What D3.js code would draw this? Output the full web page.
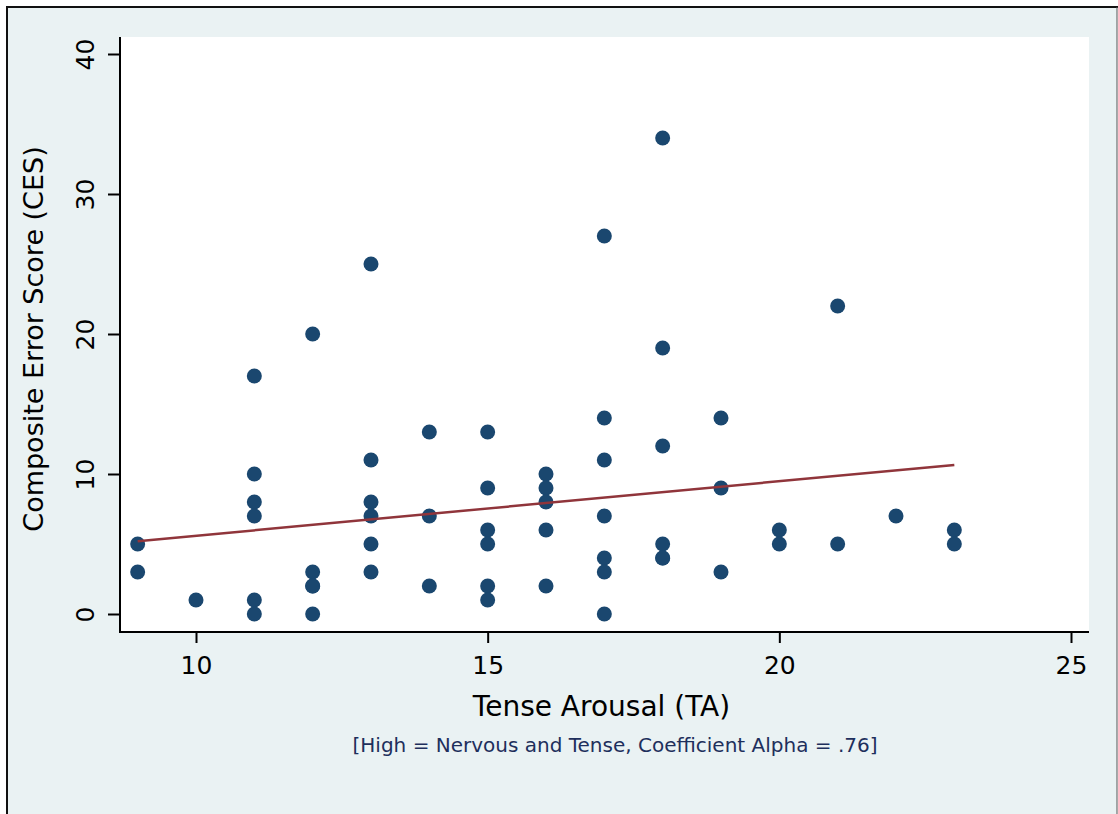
<!DOCTYPE html>
<html>
<head>
<meta charset="utf-8">
<script src="https://cdn.jsdelivr.net/npm/d3@7"></script>
<style>
  body { margin: 0; background: #ffffff; }
  svg { display: block; font-family: "DejaVu Sans", Verdana, sans-serif; }
</style>
</head>
<body>
<svg id="drawing_region"></svg>
<script>
// Tense Arousal (x) and Composite Error Score (y), one entry per subject
const taValues  = [9, 9, 10, 11, 11, 11, 11, 11, 11, 12, 12, 12, 12, 12,
                   13, 13, 13, 13, 13, 13, 14, 14, 14,
                   15, 15, 15, 15, 15, 15, 16, 16, 16, 16, 16,
                   17, 17, 17, 17, 17, 17, 17, 18, 18, 18, 18, 18, 18,
                   19, 19, 19, 20, 20, 21, 21, 22, 23, 23];
const cesValues = [5, 3, 1, 17, 10, 8, 7, 1, 0, 20, 3, 2, 2, 0,
                   25, 11, 8, 7, 5, 3, 13, 7, 2,
                   13, 9, 6, 5, 2, 1, 10, 9, 8, 6, 2,
                   27, 14, 11, 7, 4, 3, 0, 34, 19, 12, 5, 4, 4,
                   14, 9, 3, 6, 5, 22, 5, 7, 6, 5];

// fitted line (linear fit) endpoints
const fitX = [9, 23];
const fitY = [5.2, 10.65];

const xTicks = [10, 15, 20, 25];
const yTicks = [0, 10, 20, 30, 40];

const xTitle = "Tense Arousal (TA)";
const xNote = "[High = Nervous and Tense, Coefficient Alpha = .76]";
const yTitle = "Composite Error Score (CES)";

const config = {
    width: 1118,
    height: 814,
    plotLeft: 120,
    plotRight: 1089,
    plotTop: 37,
    plotBottom: 632
};

const svg = d3.select('#drawing_region')
    .attr('width', config.width)
    .attr('height', config.height);

// graph region background + frame
svg.append('rect')
    .attr('x', 7).attr('y', 7)
    .attr('width', 1110).attr('height', 820)
    .attr('fill', '#eaf2f3');
svg.append('line')
    .attr('x1', 6).attr('x2', 1118).attr('y1', 7).attr('y2', 7)
    .attr('stroke', '#111').attr('stroke-width', 2);
svg.append('line')
    .attr('x1', 7).attr('x2', 7).attr('y1', 6).attr('y2', 814)
    .attr('stroke', '#111').attr('stroke-width', 2);
svg.append('line')
    .attr('x1', 1117).attr('x2', 1117).attr('y1', 7).attr('y2', 814)
    .attr('stroke', '#555').attr('stroke-width', 1);

// plot region
svg.append('rect')
    .attr('x', config.plotLeft).attr('y', config.plotTop)
    .attr('width', config.plotRight - config.plotLeft)
    .attr('height', config.plotBottom - config.plotTop)
    .attr('fill', '#ffffff');

const xScale = d3.scaleLinear().domain([10, 25]).range([196, 1071]);
const yScale = d3.scaleLinear().domain([0, 40]).range([614, 54]);

// axes
const xAxis = d3.axisBottom(xScale)
    .tickValues(xTicks)
    .tickSize(11)
    .tickPadding(13)
    .tickSizeOuter(0);
const gx = svg.append('g')
    .attr('transform', `translate(0, ${config.plotBottom})`)
    .call(xAxis);
gx.select('.domain').remove();
gx.append('line')
    .attr('x1', config.plotLeft - 1).attr('x2', config.plotRight)
    .attr('stroke', '#000').attr('stroke-width', 2);
gx.selectAll('.tick line').attr('stroke', '#000').attr('stroke-width', 2);
gx.selectAll('.tick text')
    .attr('fill', '#000')
    .style('font-family', '"DejaVu Sans", sans-serif')
    .style('font-size', '25px');

const yAxis = d3.axisLeft(yScale)
    .tickValues(yTicks)
    .tickSize(12)
    .tickSizeOuter(0);
const gy = svg.append('g')
    .attr('transform', `translate(${config.plotLeft}, 0)`)
    .call(yAxis);
gy.select('.domain').remove();
gy.append('line')
    .attr('y1', config.plotTop).attr('y2', config.plotBottom + 1)
    .attr('stroke', '#000').attr('stroke-width', 2);
gy.selectAll('.tick line').attr('stroke', '#000').attr('stroke-width', 2);
gy.selectAll('.tick text')
    .attr('x', null).attr('dy', null)
    .attr('fill', '#000')
    .attr('text-anchor', 'middle')
    .attr('transform', 'translate(-26, 0) rotate(-90)')
    .style('font-family', '"DejaVu Sans", sans-serif')
    .style('font-size', '25px');

// points
const points = taValues.map((v, i) => ({ x: v, y: cesValues[i] }));
svg.append('g')
    .selectAll('circle')
    .data(points)
    .join('circle')
    .attr('cx', d => xScale(d.x))
    .attr('cy', d => yScale(d.y))
    .attr('r', 7.5)
    .attr('fill', '#1a476f');

// fitted line
svg.append('path')
    .datum(fitX.map((v, i) => [v, fitY[i]]))
    .attr('d', d3.line().x(d => xScale(d[0])).y(d => yScale(d[1])))
    .attr('fill', 'none')
    .attr('stroke', '#90353b')
    .attr('stroke-width', 2.5);

// titles
const midX = (config.plotLeft + config.plotRight) / 2;
svg.append('text')
    .attr('x', midX - 3).attr('y', 716)
    .attr('text-anchor', 'middle')
    .style('font-size', '28px')
    .attr('fill', '#000')
    .text(xTitle);
svg.append('text')
    .attr('x', 615).attr('y', 752)
    .attr('text-anchor', 'middle')
    .style('font-size', '20px')
    .attr('fill', '#1e2f5c')
    .text(xNote);
svg.append('text')
    .attr('transform', `translate(43, 339) rotate(-90)`)
    .attr('text-anchor', 'middle')
    .style('font-size', '27px')
    .attr('fill', '#000')
    .text(yTitle);
</script>
</body>
</html>
